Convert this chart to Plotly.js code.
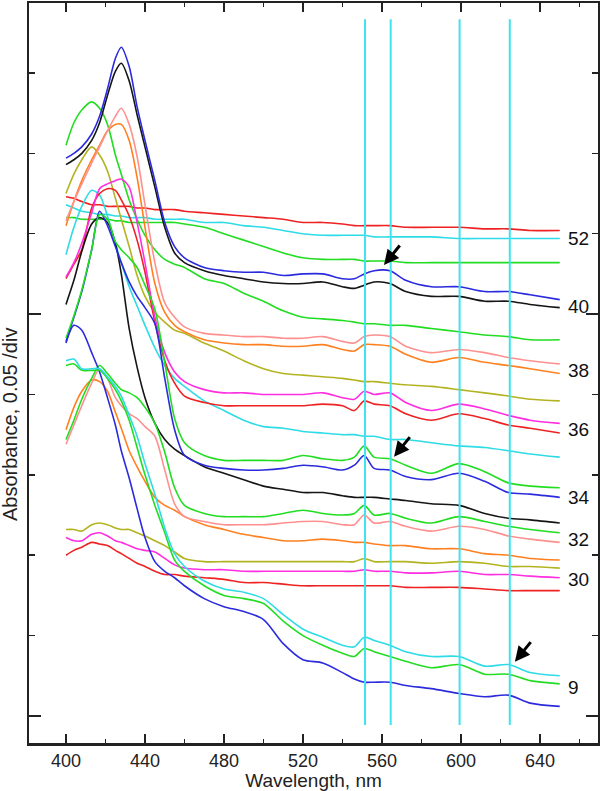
<!DOCTYPE html>
<html>
<head>
<meta charset="utf-8">
<script src="https://cdn.plot.ly/plotly-3.0.1.min.js"></script>
<style>html,body{margin:0;padding:0;background:#fff;}#chart{width:600px;height:791px;}</style>
</head>
<body>
<div id="chart"></div>
<script>
// Wavelength grid (nm)
const wl = [400,404,408,413,417,421,425,428,432,436,440,445,450,455,460,470,480,490,500,510,520,530,540,546,551,556,564,572,585,599,612,624,635,650];

// Absorbance (offset traces), group "52"
const r52 = [0.323,0.322,0.320,0.318,0.318,0.317,0.317,0.317,0.317,0.316,0.316,0.315,0.315,0.315,0.314,0.313,0.312,0.311,0.310,0.309,0.307,0.307,0.306,0.305,0.305,0.305,0.305,0.304,0.304,0.304,0.303,0.303,0.302,0.302];
const c52 = [0.318,0.316,0.314,0.313,0.312,0.312,0.311,0.311,0.310,0.310,0.310,0.309,0.309,0.309,0.309,0.307,0.307,0.305,0.304,0.302,0.300,0.299,0.299,0.299,0.299,0.298,0.298,0.298,0.298,0.297,0.297,0.297,0.297,0.297];
const g52 = [0.310,0.310,0.309,0.309,0.309,0.309,0.308,0.308,0.307,0.307,0.307,0.307,0.307,0.307,0.306,0.304,0.300,0.296,0.292,0.288,0.285,0.284,0.284,0.284,0.283,0.283,0.283,0.282,0.282,0.282,0.282,0.282,0.282,0.282];
// group "40"
const b40 = [0.347,0.350,0.354,0.362,0.373,0.390,0.409,0.416,0.404,0.379,0.358,0.333,0.307,0.292,0.285,0.279,0.277,0.276,0.276,0.274,0.275,0.275,0.272,0.272,0.275,0.277,0.277,0.271,0.267,0.267,0.264,0.264,0.262,0.259];
const k40 = [0.343,0.346,0.350,0.358,0.369,0.386,0.401,0.406,0.395,0.374,0.354,0.329,0.304,0.288,0.282,0.277,0.274,0.272,0.270,0.269,0.269,0.270,0.267,0.266,0.268,0.270,0.269,0.264,0.261,0.261,0.258,0.258,0.256,0.254];
const g40 = [0.355,0.369,0.377,0.382,0.378,0.368,0.349,0.337,0.321,0.309,0.299,0.290,0.284,0.281,0.279,0.272,0.269,0.263,0.258,0.252,0.248,0.247,0.246,0.245,0.244,0.244,0.243,0.243,0.241,0.239,0.237,0.236,0.234,0.234];
// group "38"
const p38 = [0.308,0.320,0.331,0.344,0.354,0.364,0.373,0.378,0.368,0.348,0.318,0.282,0.257,0.248,0.242,0.238,0.237,0.236,0.236,0.235,0.235,0.236,0.233,0.232,0.236,0.237,0.236,0.230,0.226,0.228,0.226,0.223,0.221,0.219];
const o38 = [0.305,0.320,0.333,0.346,0.355,0.364,0.368,0.368,0.358,0.335,0.304,0.269,0.251,0.243,0.239,0.234,0.232,0.231,0.231,0.230,0.230,0.231,0.228,0.227,0.231,0.231,0.230,0.225,0.220,0.223,0.220,0.218,0.216,0.213];
const y38 = [0.325,0.337,0.346,0.354,0.349,0.339,0.322,0.309,0.292,0.274,0.261,0.251,0.245,0.240,0.238,0.232,0.227,0.221,0.216,0.213,0.212,0.211,0.210,0.209,0.208,0.208,0.207,0.206,0.205,0.203,0.201,0.199,0.197,0.196];
// group "36"
const m36 = [0.273,0.282,0.294,0.313,0.328,0.331,0.333,0.334,0.329,0.307,0.282,0.248,0.226,0.214,0.208,0.203,0.201,0.201,0.200,0.200,0.200,0.201,0.198,0.197,0.202,0.200,0.201,0.195,0.190,0.194,0.191,0.187,0.184,0.182];
const r36 = [0.272,0.281,0.290,0.316,0.325,0.328,0.327,0.321,0.311,0.296,0.276,0.245,0.221,0.207,0.199,0.195,0.193,0.193,0.193,0.193,0.193,0.194,0.193,0.190,0.196,0.194,0.193,0.188,0.184,0.188,0.185,0.181,0.179,0.176];
const c36 = [0.287,0.304,0.317,0.327,0.324,0.311,0.294,0.282,0.267,0.255,0.243,0.229,0.218,0.210,0.205,0.196,0.190,0.184,0.180,0.179,0.177,0.176,0.175,0.175,0.174,0.174,0.172,0.172,0.170,0.168,0.167,0.165,0.163,0.161];
// group "34"
const g34 = [0.235,0.249,0.265,0.290,0.312,0.309,0.295,0.290,0.285,0.279,0.268,0.253,0.220,0.185,0.170,0.162,0.159,0.159,0.159,0.159,0.162,0.160,0.159,0.161,0.168,0.161,0.160,0.156,0.151,0.157,0.152,0.145,0.143,0.142];
const b34 = [0.233,0.248,0.264,0.290,0.314,0.305,0.292,0.282,0.270,0.261,0.254,0.244,0.210,0.178,0.162,0.156,0.154,0.153,0.153,0.154,0.156,0.155,0.153,0.156,0.162,0.154,0.153,0.149,0.147,0.151,0.146,0.139,0.138,0.136];
const k34 = [0.256,0.271,0.289,0.306,0.310,0.307,0.294,0.275,0.241,0.217,0.198,0.182,0.172,0.166,0.162,0.155,0.151,0.147,0.143,0.141,0.139,0.139,0.137,0.136,0.136,0.136,0.135,0.134,0.132,0.131,0.126,0.123,0.122,0.120];
// group "32"
const g32 = [0.172,0.184,0.197,0.210,0.218,0.213,0.207,0.203,0.201,0.198,0.192,0.182,0.164,0.142,0.131,0.126,0.124,0.124,0.124,0.126,0.128,0.126,0.125,0.126,0.131,0.125,0.126,0.123,0.120,0.124,0.121,0.118,0.116,0.114];
const p32 = [0.169,0.181,0.193,0.207,0.216,0.210,0.198,0.193,0.188,0.185,0.180,0.174,0.153,0.132,0.124,0.121,0.119,0.119,0.119,0.120,0.121,0.121,0.119,0.119,0.125,0.120,0.121,0.118,0.115,0.118,0.116,0.112,0.110,0.108];
const o32 = [0.178,0.192,0.202,0.209,0.208,0.202,0.189,0.179,0.165,0.155,0.146,0.136,0.131,0.128,0.124,0.119,0.116,0.113,0.111,0.109,0.109,0.110,0.109,0.108,0.108,0.107,0.106,0.106,0.104,0.104,0.101,0.100,0.098,0.097];
// group "30"
const y30 = [0.116,0.116,0.115,0.119,0.120,0.119,0.117,0.116,0.116,0.114,0.112,0.109,0.106,0.102,0.098,0.096,0.096,0.096,0.096,0.096,0.096,0.096,0.096,0.096,0.098,0.096,0.096,0.096,0.095,0.096,0.095,0.093,0.093,0.092];
const m30 = [0.111,0.109,0.109,0.113,0.114,0.112,0.109,0.108,0.106,0.104,0.103,0.102,0.098,0.094,0.092,0.091,0.091,0.090,0.090,0.090,0.090,0.090,0.090,0.090,0.091,0.090,0.090,0.089,0.089,0.090,0.088,0.088,0.087,0.086];
const r30 = [0.100,0.103,0.105,0.108,0.107,0.106,0.103,0.101,0.098,0.095,0.093,0.090,0.088,0.088,0.087,0.086,0.085,0.083,0.083,0.082,0.081,0.081,0.081,0.081,0.081,0.081,0.081,0.080,0.080,0.080,0.079,0.078,0.078,0.078];
// group "9"
const c9 = [0.221,0.222,0.216,0.216,0.216,0.211,0.205,0.199,0.187,0.174,0.157,0.138,0.117,0.101,0.093,0.084,0.079,0.077,0.073,0.063,0.054,0.049,0.044,0.043,0.049,0.047,0.044,0.040,0.037,0.037,0.031,0.032,0.027,0.025];
const g9 = [0.218,0.219,0.215,0.215,0.215,0.210,0.203,0.196,0.184,0.167,0.150,0.131,0.114,0.097,0.090,0.081,0.075,0.073,0.070,0.059,0.050,0.044,0.039,0.037,0.042,0.040,0.037,0.034,0.030,0.032,0.026,0.026,0.022,0.020];
const b9 = [0.232,0.243,0.240,0.226,0.214,0.198,0.181,0.165,0.148,0.129,0.111,0.096,0.090,0.086,0.081,0.073,0.068,0.065,0.060,0.045,0.035,0.033,0.027,0.023,0.021,0.021,0.021,0.019,0.017,0.014,0.012,0.013,0.008,0.006];

// Reference wavelengths (nm) marked by vertical lines
const markerWl = [551.4, 564.4, 599.3, 624.7];
// Curve labels on the right
const labelText = ['52','40','38','36','34','32','30','9'];
const labelY = [0.297,0.255,0.215,0.178,0.136,0.110,0.085,0.018];
// Arrow tips (wavelength, absorbance)
const arrowX = [561.0, 566.1, 627.3];
const arrowY = [0.2805, 0.1613, 0.0338];

const C = {red:'#ee2222', cyan:'#2edbe6', green:'#22dd22', blue:'#2b2bdd', black:'#151515',
           pink:'#ff9090', orange:'#ff8020', olive:'#b3b322', magenta:'#ff2ee0'};

const series = [
  [r52,C.red],[c52,C.cyan],[g52,C.green],
  [g40,C.green],[k40,C.black],[b40,C.blue],
  [y38,C.olive],[o38,C.orange],[p38,C.pink],
  [c36,C.cyan],[r36,C.red],[m36,C.magenta],
  [k34,C.black],[b34,C.blue],[g34,C.green],
  [o32,C.orange],[p32,C.pink],[g32,C.green],
  [r30,C.red],[m30,C.magenta],[y30,C.olive],
  [b9,C.blue],[g9,C.green],[c9,C.cyan]
];

const traces = series.map(([ys,col]) => ({
  x: wl, y: ys, type:'scatter', mode:'lines',
  line:{color:col, width:1.6, shape:'spline', smoothing:0.8},
  hoverinfo:'skip'
}));

const shapes = markerWl.map(w => ({
  type:'line', xref:'x', yref:'y', x0:w, x1:w, y0:-0.0056, y1:0.4334,
  line:{color:'#3fe3ee', width:2}, layer:'above'
}));

const annotations = [];
labelText.forEach((t,i) => annotations.push({
  x:653.4, y:labelY[i], xref:'x', yref:'y', text:t, showarrow:false,
  xanchor:'left', yanchor:'middle', font:{size:19, color:'#111'}
}));
arrowX.forEach((x,i) => annotations.push({
  x:x, y:arrowY[i], xref:'x', yref:'y', text:'', showarrow:true,
  ax:17, ay:-21, arrowhead:2, arrowsize:1, arrowwidth:3, arrowcolor:'#000', standoff:0
}));
annotations.push({
  xref:'paper', yref:'y', x:-0.0334, y:0.1816, text:'Absorbance, 0.05 /div',
  textangle:-90, showarrow:false, xanchor:'center', yanchor:'middle',
  font:{size:20, color:'#222'}
});

const layout = {
  width:600, height:791,
  margin:{l:29, r:2, t:3, b:48},
  paper_bgcolor:'#fff', plot_bgcolor:'#fff',
  showlegend:false,
  font:{family:'"Liberation Sans", Arial, sans-serif', color:'#222'},
  xaxis:{
    range:[381.27, 669.37], tick0:400, dtick:40,
    ticks:'inside', ticklen:9, tickwidth:1.5, tickcolor:'#222',
    showline:true, linewidth:2.5, linecolor:'#222', mirror:'allticks',
    showgrid:false, zeroline:false,
    tickfont:{size:18, color:'#222'},
    minor:{tick0:400, dtick:20, ticks:'inside', ticklen:4, tickwidth:1.5, tickcolor:'#222', showgrid:false},
    title:{text:'Wavelength, nm', font:{size:19, color:'#222'}, standoff:3}
  },
  yaxis:{
    range:[-0.0168, 0.4435], tick0:0, dtick:0.25,
    ticks:'inside', ticklen:12, tickwidth:1.5, tickcolor:'#222',
    showticklabels:false,
    showline:true, linewidth:2.5, linecolor:'#222', mirror:'allticks',
    showgrid:false, zeroline:false,
    minor:{tick0:0, dtick:0.05, ticks:'inside', ticklen:6, tickwidth:1.5, tickcolor:'#222', showgrid:false}
  },
  shapes:shapes,
  annotations:annotations
};

Plotly.newPlot('chart', traces, layout, {staticPlot:true, displayModeBar:false});
</script>
</body>
</html>
